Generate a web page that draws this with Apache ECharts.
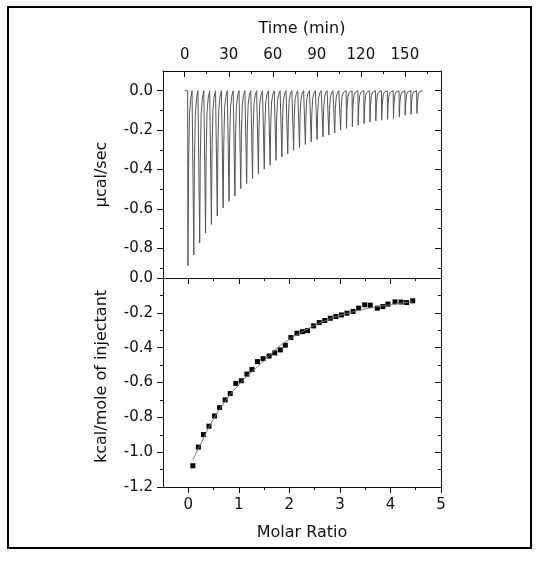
<!DOCTYPE html>
<html><head><meta charset="utf-8">
<script src="https://cdn.jsdelivr.net/npm/echarts@6/dist/echarts.min.js"></script>
<style>html,body{margin:0;padding:0;background:#fff}#c{width:539px;height:561px}</style>
</head><body><div id="c"></div>
<script>
// ---- Raw thermogram (top panel) ----
const injectionTimes = [2,6,10,14,18,22,26,30,34,38,42,46,50,54,58,62,66,70,74,78,
  82,86,90,94,98,102,106,110,114,118,122,126,130,134,138,142,146,150,154,158];
const peakHeights = [-0.887,-0.833,-0.772,-0.722,-0.678,-0.636,-0.594,-0.561,-0.534,-0.497,
  -0.471,-0.446,-0.421,-0.398,-0.378,-0.353,-0.336,-0.319,-0.302,-0.288,
  -0.273,-0.260,-0.247,-0.234,-0.225,-0.214,-0.200,-0.191,-0.183,-0.175,
  -0.166,-0.159,-0.153,-0.149,-0.146,-0.140,-0.132,-0.125,-0.120,-0.115];
const baselineStart = 0;
const baselineEnd = 162;
// shape of one injection peak (minutes after injection, fraction of peak depth)
const peakShapeOffsets = [0, 0.2, 0.6, 1.2, 2.0, 3.0];
const peakShapeFractions = [0, 1, 0.45, 0.15, 0.05, 0];

// ---- Integrated heats (bottom panel) ----
const molarRatio = [0.09,0.20,0.30,0.41,0.52,0.62,0.73,0.83,0.94,1.05,
  1.16,1.26,1.37,1.48,1.60,1.71,1.82,1.92,2.03,2.15,
  2.26,2.36,2.48,2.59,2.70,2.81,2.92,3.03,3.14,3.26,
  3.37,3.49,3.60,3.74,3.85,3.95,4.09,4.21,4.32,4.44];
const heatPerMole = [-1.078,-0.971,-0.899,-0.851,-0.792,-0.744,-0.700,-0.663,-0.605,-0.590,
  -0.552,-0.525,-0.480,-0.463,-0.448,-0.430,-0.413,-0.386,-0.342,-0.317,
  -0.308,-0.302,-0.275,-0.256,-0.244,-0.231,-0.221,-0.212,-0.202,-0.192,
  -0.173,-0.154,-0.156,-0.173,-0.164,-0.150,-0.137,-0.138,-0.141,-0.131];
const fitRatio = [0.09,0.25,0.5,0.75,1.0,1.25,1.5,1.75,2.0,2.25,2.5,2.75,3.0,3.25,3.5,3.75,4.0,4.25,4.44];
const fitHeat = [-1.045,-0.95,-0.81,-0.70,-0.612,-0.54,-0.475,-0.405,-0.352,-0.31,-0.272,-0.24,-0.215,-0.195,-0.178,-0.165,-0.153,-0.143,-0.136];

// ---- Tick labels ----
const timeTicks = [0,30,60,90,120,150];
const timeMinorTicks = [15,45,75,105,135,165];
const powerTicks = [0,-0.2,-0.4,-0.6,-0.8];
const powerMinorTicks = [-0.1,-0.3,-0.5,-0.7,-0.9];
const ratioTicks = [0,1,2,3,4,5];
const ratioMinorTicks = [0.5,1.5,2.5,3.5,4.5];
const heatTicks = [0,-0.2,-0.4,-0.6,-0.8,-1.0,-1.2];
const heatMinorTicks = [-0.1,-0.3,-0.5,-0.7,-0.9,-1.1];

const thermogram = [[baselineStart, 0]];
injectionTimes.forEach((t, i) => {
  peakShapeOffsets.forEach((o, k) => thermogram.push([t + o, peakHeights[i] * peakShapeFractions[k]]));
});
thermogram.push([baselineEnd, 0]);

const FONT = 'DejaVu Sans';
const TXT = '#111';
const lineStyle = {color: '#111', width: 1};

function axis(o) {
  const a = {
    type: 'value', gridIndex: o.grid, position: o.position, min: o.min, max: o.max,
    scale: true,
    axisLine: {show: o.line !== false, onZero: false, lineStyle},
    splitLine: {show: false},
    axisTick: {show: true, inside: !!o.inside, length: o.major ? 6 : 3, customValues: o.values, lineStyle},
    axisLabel: o.labels ? {show: true, customValues: o.values, margin: o.margin, fontFamily: FONT, fontSize: 15, color: TXT,
      formatter: o.fmt} : {show: false}
  };
  if (o.name) {
    Object.assign(a, {name: o.name, nameLocation: 'middle', nameGap: o.nameGap,
      nameTextStyle: {fontFamily: FONT, fontSize: 16, color: TXT, padding: o.namePad || 0}});
  }
  return a;
}
const f1 = v => v.toFixed(1);
const f0 = v => String(v);

const TMIN = -14.8, TMAX = 174.6, PMIN = -0.95, PMAX = 0.1;
const RMIN = -0.5, RMAX = 5, HMIN = -1.2, HMAX = 0;

const option = {
  animation: false,
  backgroundColor: '#fff',
  grid: [
    {left: 163, right: 98, top: 71, height: 207},
    {left: 163, right: 98, top: 278, height: 209}
  ],
  xAxis: [
    axis({grid: 0, position: 'top', min: TMIN, max: TMAX, values: timeTicks, major: true, inside: true, labels: true, margin: 8, fmt: f0, name: 'Time (min)', nameGap: 34}),
    axis({grid: 0, position: 'top', min: TMIN, max: TMAX, values: timeMinorTicks, inside: true, line: false}),
    axis({grid: 1, position: 'bottom', min: RMIN, max: RMAX, values: ratioTicks, major: true, labels: true, margin: 11, fmt: f0, name: 'Molar Ratio', nameGap: 38}),
    axis({grid: 1, position: 'bottom', min: RMIN, max: RMAX, values: ratioMinorTicks, line: false}),
    axis({grid: 1, position: 'top', min: RMIN, max: RMAX, values: ratioTicks, major: true, inside: true}),
    axis({grid: 1, position: 'top', min: RMIN, max: RMAX, values: ratioMinorTicks, inside: true, line: false})
  ],
  yAxis: [
    axis({grid: 0, position: 'left', min: PMIN, max: PMAX, values: powerTicks, major: true, labels: true, margin: 10, fmt: f1, name: 'µcal/sec', nameGap: 53}),
    axis({grid: 0, position: 'left', min: PMIN, max: PMAX, values: powerMinorTicks, line: false}),
    axis({grid: 0, position: 'right', min: PMIN, max: PMAX, values: powerTicks, major: true, inside: true}),
    axis({grid: 0, position: 'right', min: PMIN, max: PMAX, values: powerMinorTicks, inside: true, line: false}),
    axis({grid: 1, position: 'left', min: HMIN, max: HMAX, values: heatTicks, major: true, labels: true, margin: 10, fmt: f1, name: 'kcal/mole of injectant', nameGap: 53, namePad: [0, 0, 0, 12]}),
    axis({grid: 1, position: 'left', min: HMIN, max: HMAX, values: heatMinorTicks, line: false}),
    axis({grid: 1, position: 'right', min: HMIN, max: HMAX, values: heatTicks, major: true, inside: true}),
    axis({grid: 1, position: 'right', min: HMIN, max: HMAX, values: heatMinorTicks, inside: true, line: false})
  ],
  series: [
    {type: 'line', xAxisIndex: 0, yAxisIndex: 0, data: thermogram, showSymbol: false, symbol: 'none',
      lineStyle: {color: '#555', width: 1}, clip: true},
    {type: 'line', xAxisIndex: 2, yAxisIndex: 4, data: fitRatio.map((x, i) => [x, fitHeat[i]]), smooth: true,
      symbol: 'none', lineStyle: {color: '#777', width: 1}},
    {type: 'scatter', xAxisIndex: 2, yAxisIndex: 4, data: molarRatio.map((x, i) => [x, heatPerMole[i]]),
      symbol: 'rect', symbolSize: 5, itemStyle: {color: '#000', opacity: 1}}
  ],
  graphic: [
    {type: 'rect', shape: {x: 8, y: 7, width: 523, height: 541}, style: {fill: 'none', stroke: '#000', lineWidth: 2}, silent: true}
  ]
};
echarts.init(document.getElementById('c')).setOption(option);
</script>
</body></html>
